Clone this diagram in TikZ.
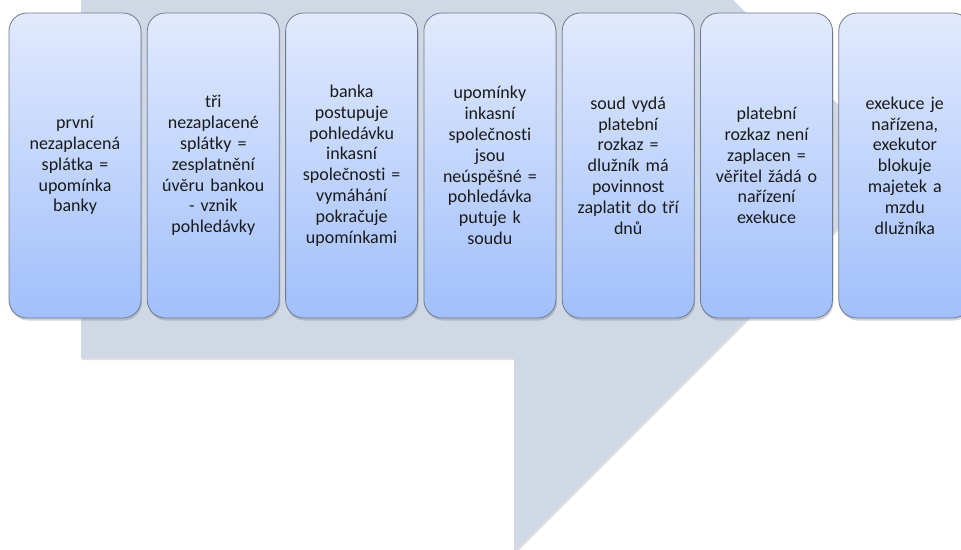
\documentclass[tikz,border=0pt]{standalone}
\usepackage{fontspec}
\setmainfont{Carlito}[Ligatures=NoCommon]
\usetikzlibrary{shadows}
\definecolor{bgarrow}{HTML}{D0D7E5}
\definecolor{boxtop}{HTML}{E1EAFD}
\definecolor{boxbot}{HTML}{A1BFFB}
\definecolor{boxline}{HTML}{6E7B8F}
\definecolor{txt}{HTML}{1A1A1A}
\tikzset{
  stepbox/.style={draw=boxline, line width=0.8pt, rounded corners=18pt,
    top color=boxtop, bottom color=boxbot,
    minimum width=132pt, minimum height=305pt, text width=131pt,
    align=center, inner sep=0pt, font=\fontsize{18}{20.8}\selectfont, text=txt,
    drop shadow={opacity=0.35, shadow xshift=1pt, shadow yshift=-2.5pt}},
  arrowshape/.style={fill=bgarrow,
    drop shadow={opacity=0.25, shadow xshift=1pt, shadow yshift=-2pt}}
}
\begin{document}
\begin{tikzpicture}[x=1pt,y=-1pt]
\useasboundingbox (0,0) rectangle (961,549);
\clip (0,0) rectangle (961,549);
\path[arrowshape] (81,-20) -- (713,-20) -- (900,166) -- (514,552) -- (514,358) -- (81,358) -- cycle;
\node[stepbox] (b1) at (75,165.5) {první\\nezaplacená\\splátka =\\upomínka\\banky};
\node[stepbox] (b2) at (213.3,165.5) {tři\\nezaplacené\\splátky =\\zesplatnění\\úvěru bankou\\- vznik\\pohledávky};
\node[stepbox] (b3) at (351.6,165.5) {banka\\postupuje\\pohledávku\\inkasní\\společnosti =\\vymáhání\\pokračuje\\upomínkami};
\node[stepbox] (b4) at (489.9,165.5) {upomínky\\inkasní\\společnosti\\jsou\\neúspěšné =\\pohledávka\\putuje k\\soudu};
\node[stepbox] (b5) at (628.2,165.5) {soud vydá\\platební\\rozkaz =\\dlužník má\\povinnost\\zaplatit do tří\\dnů};
\node[stepbox] (b6) at (766.5,165.5) {platební\\rozkaz není\\zaplacen =\\věřitel žádá o\\nařízení\\exekuce};
\node[stepbox] (b7) at (904.8,165.5) {exekuce je\\nařízena,\\exekutor\\blokuje\\majetek a\\mzdu\\dlužníka};
\end{tikzpicture}
\end{document}
